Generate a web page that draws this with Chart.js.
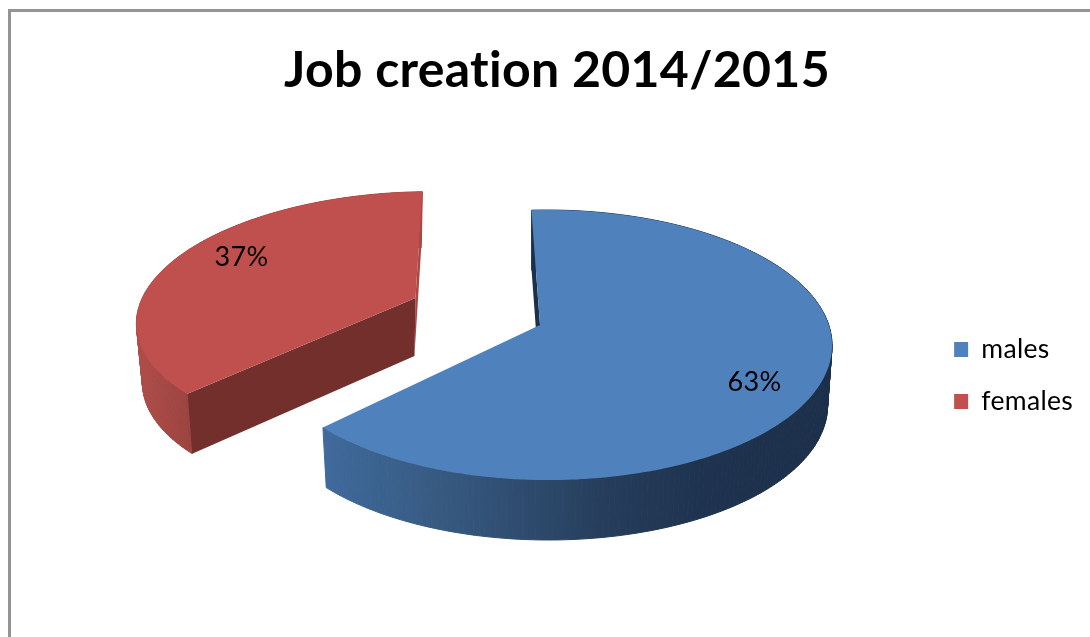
<!DOCTYPE html>
<html>
<head>
<meta charset="utf-8">
<title>Job creation 2014/2015</title>
<script src="https://cdn.jsdelivr.net/npm/chart.js@4/dist/chart.umd.min.js"></script>
<style>
  html, body { margin: 0; padding: 0; background: #fff; overflow: hidden; }
  #wrap { position: relative; width: 1090px; height: 637px; }
  #frame { position: absolute; left: 8px; top: 9px; right: 0; bottom: 0; border-left: 3px solid #949494; border-top: 3px solid #949494; }
  #chart { position: absolute; left: 0; top: 0; }
</style>
</head>
<body>
<div id="wrap">
  <div id="frame"></div>
  <canvas id="chart" width="1090" height="637"></canvas>
</div>
<script>
const chartTitle = "Job creation 2014/2015";
const categories = ["males", "females"];
const shares = [63, 37];
const sliceColors = ["#4f81bd", "#c0504d"];

const FONT = "Lato, Carlito, sans-serif";

// Tilted disc: homography of the unit circle. `top` is the upper face, `low` the underside.
// `centre` is where the slice apex sits on the disc, so females reads as pulled out.
const slices3d = [
  {
    centre: [0, 0],
    top: { cx: 540, cy: 325, a: 281.3, b: 132, k: 0.148, m: 0.0257 },
    low: { cx: 540, cy: 385, a: 277, b: 132, k: 0.148, m: 0.0257 },
    wall: "#1d3049",
    endWall: null,
    rimStops: [[326, "#3f6a9b"], [450, "#36587f"], [600, "#263e5c"], [700, "#1e334f"], [830, "#1c2f4a"]],
    labelAt: 0.77, labelNudge: [0, 18]
  },
  {
    centre: [-0.445, -0.22],
    top: { cx: 537, cy: 325.5, a: 282, b: 129.5, k: 0.148, m: 0 },
    low: { cx: 533, cy: 384, a: 275, b: 132, k: 0.148, m: 0 },
    wall: "#722f2c",
    endWall: "#ab4744",
    rimStops: [[136, "#b04d49"], [190, "#9c4340"]],
    labelAt: 0.75, labelNudge: [5, -9]
  }
];

function project(p, u, v) {
  const w = 1 - p.k * v - p.m * u;
  return { x: p.cx + p.a * u / w, y: p.cy + p.b * v / w };
}

function rimPoint(s, face, theta, r) {
  return project(s[face], s.centre[0] + r * Math.cos(theta), s.centre[1] + r * Math.sin(theta));
}

function tracePoly(ctx, pts) {
  ctx.beginPath();
  pts.forEach((p, i) => i ? ctx.lineTo(p.x, p.y) : ctx.moveTo(p.x, p.y));
  ctx.closePath();
}

function fillWall(ctx, s, theta, color) {
  tracePoly(ctx, [rimPoint(s, "top", theta, 0), rimPoint(s, "top", theta, 1),
                  rimPoint(s, "low", theta, 1), rimPoint(s, "low", theta, 0)]);
  ctx.fillStyle = color;
  ctx.fill();
}

function drawSlice(ctx, s, arc, color) {
  const steps = Math.ceil((arc.endAngle - arc.startAngle) / (Math.PI / 180));
  const da = (arc.endAngle - arc.startAngle) / steps;

  // outer side, one small quad per degree
  const x0 = s.rimStops[0][0], x1 = s.rimStops[s.rimStops.length - 1][0];
  const grad = ctx.createLinearGradient(x0, 0, x1, 0);
  s.rimStops.forEach(st => grad.addColorStop((st[0] - x0) / (x1 - x0), st[1]));
  ctx.fillStyle = grad;
  ctx.strokeStyle = grad;
  ctx.lineWidth = 1;
  for (let i = 0; i < steps; i++) {
    const t0 = arc.startAngle + i * da, t1 = t0 + da;
    tracePoly(ctx, [rimPoint(s, "top", t0, 1), rimPoint(s, "top", t1, 1), rimPoint(s, "low", t1, 1), rimPoint(s, "low", t0, 1)]);
    ctx.fill();
    ctx.stroke();
  }

  // cut faces along the two radii
  if (s.endWall) fillWall(ctx, s, arc.endAngle, s.endWall);
  fillWall(ctx, s, arc.startAngle, s.wall);

  // upper face
  const face = [rimPoint(s, "top", arc.startAngle, 0)];
  for (let i = 0; i <= steps; i++) face.push(rimPoint(s, "top", arc.startAngle + i * da, 1));
  tracePoly(ctx, face);
  ctx.fillStyle = color;
  ctx.fill();
}

// non-zero spacing keeps the "ti" in the title from joining into a ligature
function setSpacing(chart) {
  chart.ctx.letterSpacing = "0.3px";
}

const tiltedPie = {
  id: "tiltedPie",
  beforeLayout: setSpacing,
  beforeDraw: setSpacing,
  afterLayout(chart) {
    // legend block sits level with the lower half of the pie
    chart.legend.top += 57;
    chart.legend.bottom += 57;
  },
  beforeDatasetsDraw(chart) {
    const ctx = chart.ctx;
    const arcs = chart.getDatasetMeta(0).data;
    ctx.save();
    // females sits behind males
    [1, 0].forEach(i => drawSlice(ctx, slices3d[i], arcs[i], sliceColors[i]));

    ctx.font = "27px " + FONT;
    ctx.fillStyle = "#000";
    ctx.textAlign = "center";
    ctx.textBaseline = "middle";
    arcs.forEach((arc, i) => {
      const s = slices3d[i];
      const mid = (arc.startAngle + arc.endAngle) / 2;
      const p = rimPoint(s, "top", mid, s.labelAt);
      ctx.fillText(shares[i] + "%", p.x + s.labelNudge[0], p.y + s.labelNudge[1]);
    });
    ctx.restore();
    return false;
  }
};

new Chart(document.getElementById("chart"), {
  type: "pie",
  data: {
    labels: categories,
    datasets: [{ data: shares, backgroundColor: sliceColors, borderWidth: 0 }]
  },
  options: {
    responsive: false,
    animation: false,
    events: [],
    rotation: -2,
    layout: { padding: { left: 31, right: 7 } },
    plugins: {
      title: {
        display: true,
        text: chartTitle,
        color: "#000",
        font: { family: FONT, size: 50, weight: "bold" },
        padding: { top: 41, bottom: 20 }
      },
      legend: {
        position: "right",
        labels: {
          color: "#000",
          font: { family: FONT, size: 26.5 },
          boxWidth: 14,
          boxHeight: 15,
          padding: 25.5
        }
      },
      tooltip: { enabled: false }
    }
  },
  plugins: [tiltedPie]
});
</script>
</body>
</html>
